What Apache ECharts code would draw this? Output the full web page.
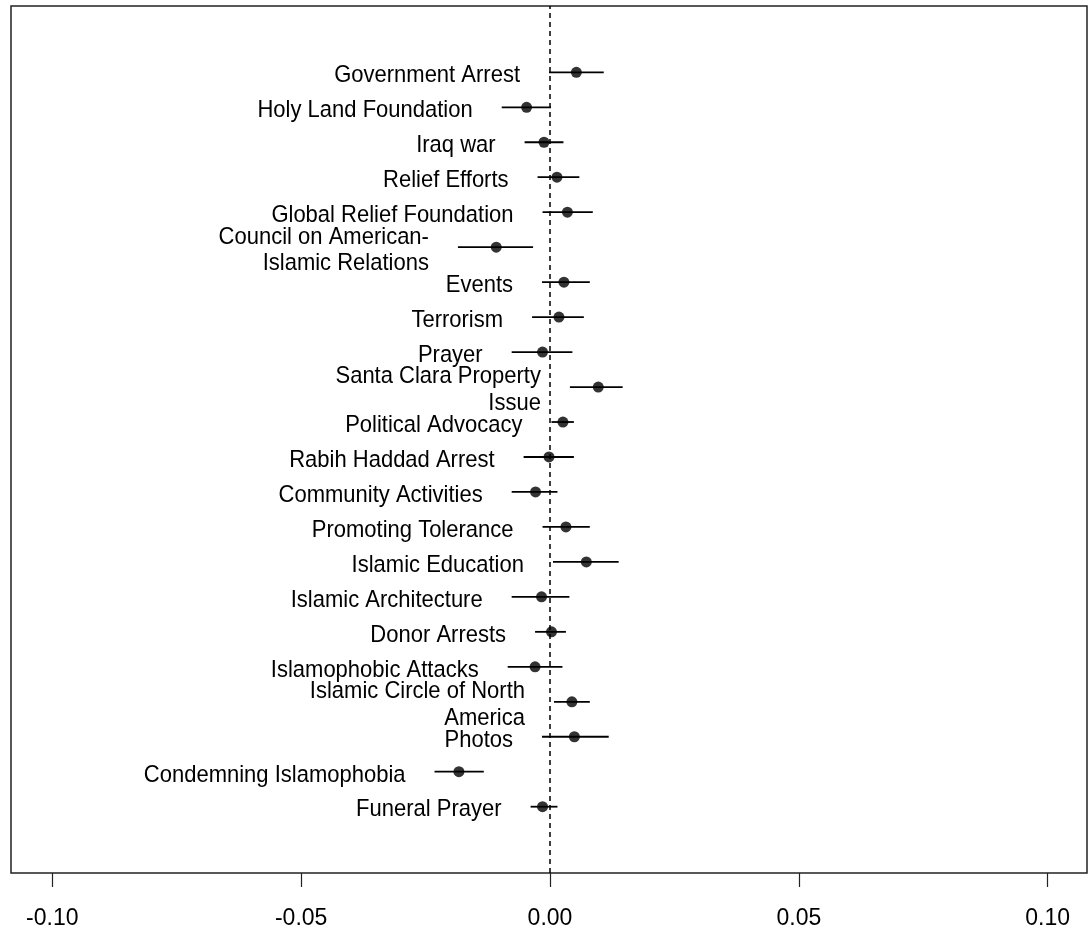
<!DOCTYPE html>
<html>
<head>
<meta charset="utf-8">
<script src="https://cdn.jsdelivr.net/npm/echarts@6/dist/echarts.min.js"></script>
<style>
  html, body { margin: 0; padding: 0; background: #fff; }
  #chart { width: 1092px; height: 932px; }
</style>
</head>
<body>
<div id="chart"></div>
<script>
// Topics, top to bottom
const categories = [
  'Government Arrest',
  'Holy Land Foundation',
  'Iraq war',
  'Relief Efforts',
  'Global Relief Foundation',
  'Council on American-\nIslamic Relations',
  'Events',
  'Terrorism',
  'Prayer',
  'Santa Clara Property\nIssue',
  'Political Advocacy',
  'Rabih Haddad Arrest',
  'Community Activities',
  'Promoting Tolerance',
  'Islamic Education',
  'Islamic Architecture',
  'Donor Arrests',
  'Islamophobic Attacks',
  'Islamic Circle of North\nAmerica',
  'Photos',
  'Condemning Islamophobia',
  'Funeral Prayer'
];

// Point estimates
const estimates = [
  0.0053, -0.0047, -0.0012, 0.0014, 0.0035, -0.0108, 0.0028, 0.0018, -0.0015, 0.0097, 0.0026,
  -0.0002, -0.0029, 0.0032, 0.0073, -0.0017, 0.0003, -0.0030, 0.0044, 0.0049, -0.0183, -0.0015
];

// Lower interval bounds
const lower = [
  -0.0002, -0.0097, -0.0051, -0.0025, -0.0015, -0.0185, -0.0016, -0.0036, -0.0077, 0.0040, 0.0003,
  -0.0053, -0.0077, -0.0015, 0.0006, -0.0077, -0.0030, -0.0085, 0.0008, -0.0016, -0.0232, -0.0039
];

// Upper interval bounds
const upper = [
  0.0108, 0.0002, 0.0027, 0.0059, 0.0086, -0.0034, 0.0080, 0.0068, 0.0045, 0.0146, 0.0048,
  0.0048, 0.0015, 0.0080, 0.0138, 0.0039, 0.0032, 0.0025, 0.0080, 0.0118, -0.0133, 0.0015
];

// X axis tick values
const xTicks = [-0.10, -0.05, 0.00, 0.05, 0.10];

const n = categories.length;
// row position: first topic at the top
const rowPos = i => n - i;

const barData = categories.map((c, i) => [lower[i], upper[i], rowPos(i), i]);
const pointData = estimates.map((v, i) => [v, rowPos(i)]);

const chart = echarts.init(document.getElementById('chart'), null, { renderer: 'canvas' });

const FONT = '"Liberation Sans", Arial, sans-serif';

chart.setOption({
  animation: false,
  backgroundColor: '#ffffff',
  grid: {
    left: 11, right: 5, top: 6, bottom: 59,
    show: true,
    borderColor: '#222',
    borderWidth: 1.5,
    backgroundColor: 'transparent'
  },
  xAxis: {
    type: 'value',
    min: -0.1083,
    max: 0.1079,
    axisLine: { show: false, onZero: false },
    splitLine: { show: false },
    axisTick: {
      show: true,
      customValues: xTicks,
      length: 14,
      lineStyle: { color: '#222', width: 1.2 }
    },
    axisLabel: {
      customValues: xTicks,
      formatter: v => v.toFixed(2),
      color: '#000',
      fontFamily: FONT,
      fontSize: 23,
      margin: 34
    }
  },
  yAxis: {
    type: 'value',
    min: 1 - 1.896,
    max: n + 1.896,
    show: false,
    splitLine: { show: false }
  },
  series: [
    {
      type: 'custom',
      data: barData,
      encode: { x: [0, 1], y: 2 },
      renderItem: (params, api) => {
        const lo = api.coord([api.value(0), api.value(2)]);
        const hi = api.coord([api.value(1), api.value(2)]);
        const label = categories[api.value(3)];
        return {
          type: 'group',
          children: [
            {
              type: 'line',
              shape: { x1: lo[0], y1: lo[1], x2: hi[0], y2: hi[1] },
              style: { stroke: '#000', lineWidth: 1.8 }
            },
            {
              type: 'text',
              x: lo[0] - 29,
              y: lo[1] + 3,
              scaleY: 1.12,
              style: {
                text: label,
                fill: '#000',
                font: '22px ' + FONT,
                align: 'right',
                verticalAlign: 'middle',
                lineHeight: 24
              }
            }
          ]
        };
      },
      z: 2
    },
    {
      type: 'scatter',
      data: pointData,
      symbol: 'circle',
      symbolSize: 11,
      itemStyle: { color: '#000' },
      z: 3,
      markLine: {
        silent: true,
        symbol: ['none', 'none'],
        label: { show: false },
        lineStyle: { color: '#000', type: [5, 4], width: 1.5 },
        data: [{ xAxis: 0 }]
      }
    }
  ]
});
</script>
</body>
</html>
